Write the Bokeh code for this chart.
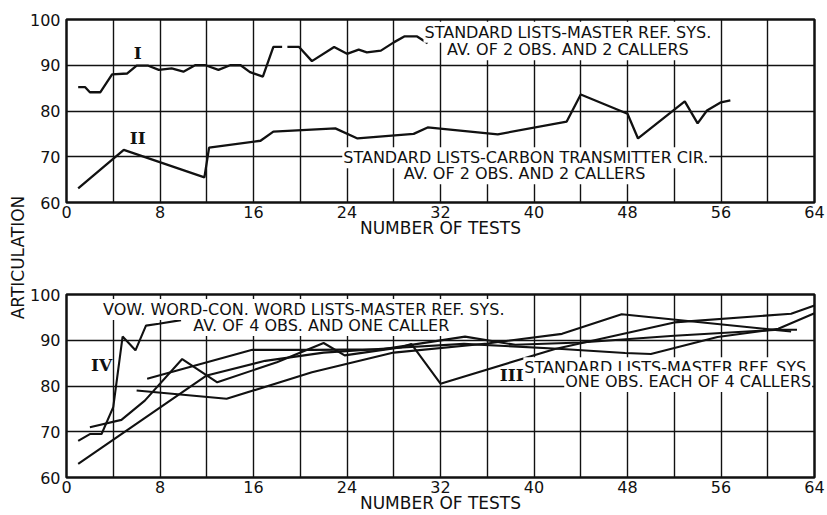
import math
from bokeh.plotting import figure
from bokeh.layouts import row, column
from bokeh.models import SingleIntervalTicker, Label
from bokeh.embed import file_html
from bokeh.resources import INLINE

nan = math.nan

# ---- upper panel: curves I and II ----
tests_I = [1, 1.6, 2, 2.9, 3.9, 5.2, 6, 7, 7.9, 9, 10, 11, 11.9, 13, 14, 14.9,
           15.7, 16.8, 17.7, 18.45, nan, 18.9, 19.9, 21, 22.9, 24, 25, 25.7,
           26.9, 28, 28.9, 30, 30.9]
art_I = [85.2, 85.2, 84.1, 84.1, 88, 88.2, 89.9, 89.9, 89, 89.3, 88.6, 90, 90,
         89, 90, 90, 88.5, 87.5, 94, 94, nan, 94, 94, 90.9, 94, 92.5, 93.4,
         92.8, 93.2, 95, 96.3, 96.3, 94.8]

tests_II = [1, 4.9, 11.8, 12.2, 16.6, 17.7, 23, 24.9, 29.7, 30.9, 36.9, 42.8,
            44, 48, 48.9, 52.9, 54, 54.8, 56, 56.8]
art_II = [63.1, 71.5, 65.5, 72, 73.5, 75.5, 76.2, 74, 75, 76.4, 74.9, 77.7,
          83.6, 79.4, 74, 82.1, 77.3, 80.1, 81.9, 82.3]

# ---- lower panel: curve IV and the four callers of curve III ----
tests_IV = [1, 2, 3, 4, 4.8, 5.9, 6.8, 7.9, 9.8]
art_IV = [68, 69.5, 69.5, 75.4, 90.8, 87.8, 93.2, 93.6, 94.4]

tests_III_a = [1, 12, 17, 22, 28, 34, 42.4, 47.8, 50, 55.7, 60.9, 64]
art_III_a = [63, 82.3, 85.5, 87.3, 88.3, 89.2, 88.1, 87.2, 87, 90.7, 92.5, 95.9]

tests_III_b = [2, 4.7, 6.7, 9.9, 12.9, 18, 22, 23.8, 28.7, 29.5, 32, 41.8, 52, 62, 64]
art_III_b = [71, 72.6, 76.8, 85.9, 80.8, 85.2, 89.4, 86.7, 88.5, 89.2, 80.5, 88.1,
             93.9, 95.8, 97.6]

tests_III_c = [6, 13.7, 21, 28, 36, 42.4, 47.5, 62]
art_III_c = [79, 77.2, 83, 87.3, 89.3, 91.4, 95.7, 91.9]

tests_III_d = [6.9, 15.9, 21, 27, 34.1, 38.4, 44, 52, 60.9, 62.5]
art_III_d = [81.6, 87.9, 87.9, 88, 90.8, 89, 89.5, 91, 92.3, 92.3]

x_ticks_step = 8
grid_x_step = 4
y_step = 10

FONT = "DejaVu Sans"
SERIF = "DejaVu Serif"
INK = "#111111"


def panel(height, top, bottom):
    p = figure(frame_width=748, frame_height=183, height=height,
               x_range=(0, 64), y_range=(60, 100),
               toolbar_location=None, output_backend="svg",
               min_border_left=36, min_border_right=13,
               min_border_top=top, min_border_bottom=bottom)
    p.xaxis.ticker = SingleIntervalTicker(interval=x_ticks_step)
    p.yaxis.ticker = SingleIntervalTicker(interval=y_step)
    p.xgrid.ticker = SingleIntervalTicker(interval=grid_x_step)
    p.ygrid.ticker = SingleIntervalTicker(interval=y_step)
    for g in (p.xgrid, p.ygrid):
        g.grid_line_color = INK
        g.grid_line_width = 1.4
        g.grid_line_alpha = 1
    for ax in (p.xaxis, p.yaxis):
        ax.axis_line_color = None
        ax.major_tick_line_color = None
        ax.minor_tick_line_color = None
        ax.major_tick_out = 0
        ax.major_tick_in = 0
        ax.minor_tick_out = 0
        ax.minor_tick_in = 0
        ax.major_label_text_font = FONT
        ax.major_label_text_font_size = "16px"
        ax.major_label_text_color = INK
    p.yaxis.major_label_standoff = 6
    p.xaxis.major_label_standoff = 3
    p.xaxis.axis_label = "NUMBER OF TESTS"
    p.xaxis.axis_label_text_font = FONT
    p.xaxis.axis_label_text_font_size = "17px"
    p.xaxis.axis_label_text_font_style = "normal"
    p.xaxis.axis_label_text_color = INK
    p.xaxis.axis_label_standoff = -3
    p.outline_line_color = INK
    p.outline_line_width = 2.5
    p.background_fill_color = "white"
    p.border_fill_color = "white"
    return p


def note(p, x, y, text, align="center", size="16px", font=FONT, bg=True,
         style="normal"):
    p.add_layout(Label(x=x, y=y, text=text, text_align=align,
                       text_baseline="middle", text_font=font,
                       text_font_size=size, text_color=INK,
                       text_font_style=style,
                       background_fill_color="white" if bg else None,
                       padding=1))


# upper panel
p1 = panel(245, 19, 43)
p1.line(tests_I, art_I, line_color=INK, line_width=2.3)
p1.line(tests_II, art_II, line_color=INK, line_width=2.3)
note(p1, 42.9, 97.2, "STANDARD LISTS-MASTER REF. SYS.")
note(p1, 42.9, 93.4, "AV. OF 2 OBS. AND 2 CALLERS")
note(p1, 39.3, 69.8, "STANDARD LISTS-CARBON TRANSMITTER CIR.")
note(p1, 39.2, 66.3, "AV. OF 2 OBS. AND 2 CALLERS")
note(p1, 6.1, 92.6, "I", font=SERIF, bg=False, size="17px", style="bold")
note(p1, 6.1, 74.2, "II", font=SERIF, bg=False, size="17px", style="bold")

# lower panel
p2 = panel(270, 49, 38)
for xs, ys in ((tests_III_a, art_III_a), (tests_III_b, art_III_b),
               (tests_III_c, art_III_c), (tests_III_d, art_III_d),
               (tests_IV, art_IV)):
    p2.line(xs, ys, line_color=INK, line_width=2.1)
note(p2, 20.3, 96.7, "VOW. WORD-CON. WORD LISTS-MASTER REF. SYS.")
note(p2, 21.8, 93.2, "AV. OF 4 OBS. AND ONE CALLER")
note(p2, 63.8, 84.0, "STANDARD LISTS-MASTER REF. SYS,", align="right")
note(p2, 63.8, 81.0, "ONE OBS. EACH OF 4 CALLERS", align="right")
note(p2, 3.0, 84.5, "IV", font=SERIF, bg=False, size="17px", style="bold")
note(p2, 38.1, 82.3, "III", font=SERIF, bg=False, size="17px", style="bold")

# shared vertical title
side = figure(width=26, height=515, x_range=(0, 26), y_range=(0, 515),
              toolbar_location=None, output_backend="svg", min_border=0)
side.axis.visible = False
side.grid.visible = False
side.outline_line_color = None
side.add_layout(Label(x=17, y=258, text="ARTICULATION", angle=math.pi / 2,
                      text_align="center", text_baseline="middle",
                      text_font=FONT, text_font_size="17px", text_color=INK))

layout = row(side, column(p1, p2, spacing=0), spacing=0)

with open("out.html", "w") as f:
    f.write(file_html(layout, INLINE))
